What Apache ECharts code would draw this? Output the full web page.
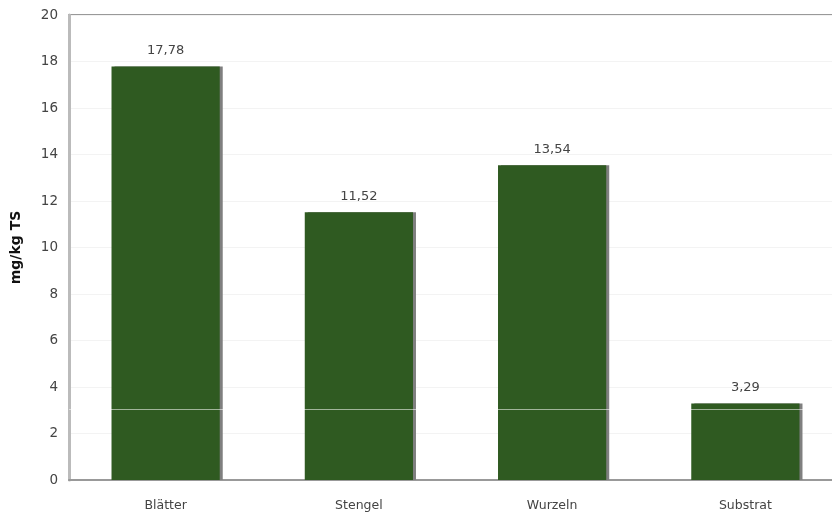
<!DOCTYPE html>
<html>
<head>
<meta charset="utf-8">
<script src="https://cdn.jsdelivr.net/npm/echarts@6/dist/echarts.min.js"></script>
<style>
  html, body { margin: 0; padding: 0; background: #fff; }
  #chart { width: 832px; height: 515px; }
</style>
</head>
<body>
<div id="chart"></div>
<script>
// Daten
const categories = ["Blätter", "Stengel", "Wurzeln", "Substrat"]
const values = [17.78, 11.52, 13.54, 3.29]
const yTicks = [0, 2, 4, 6, 8, 10, 12, 14, 16, 18, 20]
const faintLine = 3.05  // heller Strich quer durch die Balken

const fontFam = "DejaVu Sans, Verdana, sans-serif"
const EC = echarts.init(document.getElementById("chart"))

const option = {
    animation: false,
    grid: {
        left: 69,
        top: 15,
        bottom: 35,
        right: -10,
        outerBoundsMode: "none",
        containLabel: false,
        show: true,
        borderColor: "#999",
        borderWidth: 2
    },
    xAxis: {
        type: "category",
        data: categories,
        axisTick: { show: false },
        axisLine: { lineStyle: { color: "#999", width: 2 } },
        axisLabel: { color: "#444", fontSize: 12.5, fontFamily: fontFam, margin: 19 }
    },
    yAxis: {
        type: "value",
        min: yTicks[0],
        max: yTicks[yTicks.length - 1],
        interval: 2,
        name: "mg/kg TS",
        nameLocation: "middle",
        nameGap: 46,
        nameTextStyle: { color: "#111", fontWeight: "bold", fontSize: 14, fontFamily: fontFam },
        axisLine: { show: true, lineStyle: { color: "#bbb", width: 3 } },
        axisTick: { show: false },
        axisLabel: { color: "#444", fontSize: 13.5, fontFamily: fontFam, margin: 11 },
        splitLine: { lineStyle: { color: "#f3f3f3" } }
    },
    series: [{
        type: "bar",
        data: values,
        barWidth: "56%",
        itemStyle: {
            color: "#2f5a21",
            shadowColor: "#7f7f7f",
            shadowOffsetX: 3,
            shadowOffsetY: 0,
            shadowBlur: 0
        },
        label: {
            show: true,
            position: "top",
            distance: 9,
            color: "#444",
            fontSize: 13,
            fontFamily: fontFam,
            formatter: (p) => p.value.toFixed(2).replace(".", ",")
        },
        markLine: {
            silent: true,
            symbol: "none",
            label: { show: false },
            lineStyle: { color: "rgba(255,255,255,0.55)", type: "solid", width: 1 },
            data: [{ yAxis: faintLine }]
        }
    }]
}

EC.setOption(option)
</script>
</body>
</html>
